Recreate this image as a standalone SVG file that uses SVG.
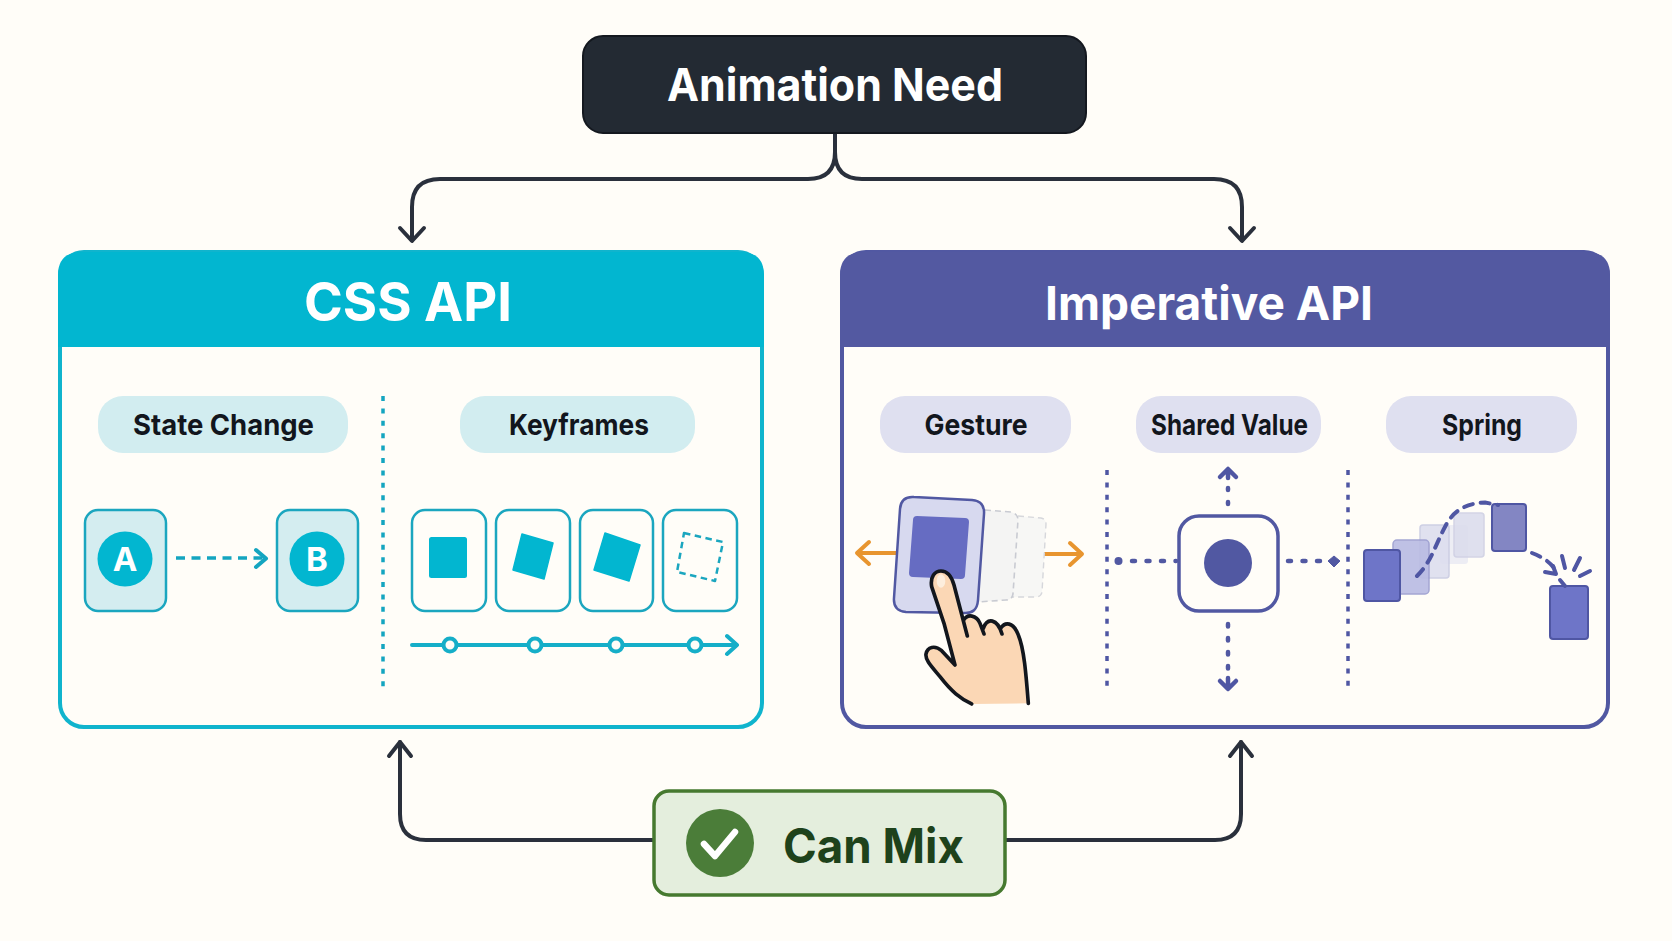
<svg xmlns="http://www.w3.org/2000/svg" width="1672" height="941" viewBox="0 0 1672 941">
  <defs>
    <style>
      text { font-family: Inter, "Noto Sans", "Liberation Sans", sans-serif; text-anchor: middle; font-weight: 700; }
      .pill-label { font-size: 29px; fill: #12161d; font-weight: 650; }
      .head { fill: #ffffff; }
      .link { fill: none; stroke: #2a303c; stroke-width: 4; stroke-linecap: round; stroke-linejoin: round; }
      .teal-fill { fill: #02b6d0; }
      .frame { fill: #fffdf8; stroke: #1ba6bf; stroke-width: 2.5; }
      .state { fill: #d4edf0; stroke: #1ba6bf; stroke-width: 2.5; }
      .pill-t { fill: #d2edf0; }
      .pill-p { fill: #dfe0f0; }
      .dots-t { fill: none; stroke: #14a5c0; stroke-width: 3.5; stroke-dasharray: 5 7.4; }
      .dots-p { fill: none; stroke: #4f56a3; stroke-width: 3.5; stroke-dasharray: 5 7.4; }
      .flow-p { fill: none; stroke: #4f56a3; stroke-width: 4.5; stroke-linecap: round; stroke-linejoin: round; }
      .spring-trail { fill: none; stroke: #4f56a3; stroke-width: 4; stroke-linecap: round; stroke-linejoin: round; }
      .orange { fill: none; stroke: #e8952f; stroke-width: 4; stroke-linecap: round; stroke-linejoin: round; }
      .ghost-a { fill: #f4f4f3; stroke: #c9cbd2; stroke-width: 1.6; stroke-dasharray: 6 4; }
      .ghost-b { fill: #f7f7f5; stroke: #d6d7db; stroke-width: 1.4; stroke-dasharray: 6 4; }
      .block { fill: #6e75c8; stroke: #4f56a3; stroke-width: 2; }
    </style>
  </defs>
  <rect width="1672" height="941" fill="#fffdf8"/>

  <g id="connectors">
    <path class="link" d="M835 134V152Q835 179 808 179H440Q412 179 412 207V240"/>
    <path class="link" d="M835 134V152Q835 179 862 179H1214Q1242 179 1242 207V240"/>
    <path class="link" d="M400 228L412 241L424 228"/>
    <path class="link" d="M1230 228L1242 241L1254 228"/>
    <path class="link" d="M653 840H426Q400 840 400 814V742"/>
    <path class="link" d="M1006 840H1215Q1241 840 1241 814V742"/>
    <path class="link" d="M389 756L400 742L411 756"/>
    <path class="link" d="M1230 756L1241 742L1252 756"/>
  </g>

  <g id="animation-need">
    <rect x="583" y="36" width="503" height="97" rx="20" fill="#232a33" stroke="#14181f" stroke-width="2"/>
    <text class="head" x="835" y="101" font-size="45" textLength="336" lengthAdjust="spacingAndGlyphs">Animation Need</text>
  </g>

  <g id="css-api">
    <rect x="60" y="252" width="702" height="475" rx="24" fill="#fffdf8" stroke="#10b4cd" stroke-width="4"/>
    <path class="teal-fill" d="M58 347V275Q58 252 82 252H740Q764 252 764 275V347Z"/>
    <text class="head" x="408" y="321" font-size="54" textLength="208" lengthAdjust="spacingAndGlyphs">CSS API</text>
    <path class="dots-t" d="M383 396V688"/>
  </g>

  <g id="state-change">
    <rect class="pill-t" x="98" y="396" width="250" height="57" rx="25"/>
    <text class="pill-label" x="223.500" y="435" textLength="181" lengthAdjust="spacingAndGlyphs">State Change</text>
    <rect class="state" x="85" y="510" width="81" height="101" rx="13"/>
    <circle class="teal-fill" cx="125" cy="559" r="27.500"/>
    <text x="125" y="571" font-size="33" style="fill:#fff">A</text>
    <rect class="state" x="277" y="510" width="81" height="101" rx="13"/>
    <circle class="teal-fill" cx="317" cy="559" r="27.500"/>
    <text x="317" y="571" font-size="33" style="fill:#fff">B</text>
    <path d="M176 558H263" fill="none" stroke="#14a5c0" stroke-width="3.500" stroke-dasharray="9 6.500"/>
    <path d="M256 550L266 558.500L256 567" fill="none" stroke="#14a5c0" stroke-width="4" stroke-linecap="round" stroke-linejoin="round"/>
  </g>

  <g id="keyframes">
    <rect class="pill-t" x="460" y="396" width="235" height="57" rx="25"/>
    <text class="pill-label" x="579" y="435" textLength="140" lengthAdjust="spacingAndGlyphs">Keyframes</text>
    <rect class="frame" x="412" y="510" width="74" height="101" rx="13"/>
    <rect class="frame" x="496" y="510" width="74" height="101" rx="13"/>
    <rect class="frame" x="580" y="510" width="73" height="101" rx="13"/>
    <rect class="frame" x="663" y="510" width="74" height="101" rx="13"/>
    <rect class="teal-fill" x="429" y="537" width="38" height="41" rx="2.500"/>
    <path class="teal-fill" d="M522 534L553 543L544 579L513 570Z" stroke="#02b6d0" stroke-width="1.500" stroke-linejoin="round"/>
    <path class="teal-fill" d="M605 533L640 545L629 581L594 570Z" stroke="#02b6d0" stroke-width="1.500" stroke-linejoin="round"/>
    <path d="M684 533L723 542L715 581L677 572Z" fill="none" stroke="#1ba6bf" stroke-width="2.500" stroke-dasharray="6.500 4.500" stroke-linejoin="round"/>
    <path d="M412 645H736M727 636L737 645L727 654" fill="none" stroke="#15aec8" stroke-width="4" stroke-linecap="round" stroke-linejoin="round"/>
    <circle cx="450" cy="645" r="6.500" fill="#fffdf8" stroke="#15aec8" stroke-width="4"/>
    <circle cx="535" cy="645" r="6.500" fill="#fffdf8" stroke="#15aec8" stroke-width="4"/>
    <circle cx="616" cy="645" r="6.500" fill="#fffdf8" stroke="#15aec8" stroke-width="4"/>
    <circle cx="695" cy="645" r="6.500" fill="#fffdf8" stroke="#15aec8" stroke-width="4"/>
  </g>

  <g id="imperative-api">
    <rect x="842" y="252" width="766" height="475" rx="24" fill="#fffdf8" stroke="#5158a2" stroke-width="4"/>
    <path d="M840 347V275Q840 252 864 252H1586Q1610 252 1610 275V347Z" fill="#5359a1"/>
    <text class="head" x="1209" y="320" font-size="47" textLength="328" lengthAdjust="spacingAndGlyphs">Imperative API</text>
    <path class="dots-p" d="M1107 470V688"/>
    <path class="dots-p" d="M1348 470V688"/>
  </g>

  <g id="gesture">
    <rect class="pill-p" x="880" y="396" width="191" height="57" rx="25"/>
    <text class="pill-label" x="976" y="435" textLength="103" lengthAdjust="spacingAndGlyphs">Gesture</text>
    <path class="orange" d="M896 553H858M869 542L857 553L869 564"/>
    <path class="orange" d="M1043 554H1081M1070 543L1082 554L1070 565"/>
    <path class="ghost-b" d="M1018 516L1041 518Q1046 519 1046 524L1042 592Q1041 597 1036 597L1010 597"/>
    <path class="ghost-a" d="M985 510L1011 512Q1018 514 1018 520L1013 594Q1012 600 1006 600L978 602"/>
    <path d="M914 497L972 500Q985 501 984 514L978 600Q977 614 964 613L906 612Q893 611 894 598L900 509Q901 496 914 497Z" fill="#d7d9ef" stroke="#5158a2" stroke-width="2.500"/>
    <path d="M917 516L965 518Q969 518 969 522L965 575Q965 579 961 579L913 577Q909 577 909 573L913 520Q913 516 917 516Z" fill="#666cc2"/>
    <g transform="translate(840 380) scale(.3333)">
      <!-- hand: peach fill first, then the outline left open along the bottom -->
      <path d="M395 972C360 955 335 935 300 890C275 860 255 840 258 822C262 800 285 795 305 812L345 855L312 730L275 620C270 590 285 573 303 573C322 573 335 590 342 615L370 722C382 700 410 705 420 730L430 755C440 712 472 715 485 752C492 728 520 725 535 765C552 805 558 880 565 970Z" fill="#fbd7b5"/>
      <path d="M395 972C360 955 335 935 300 890C275 860 255 840 258 822C262 800 285 795 305 812L345 855L312 730L275 620C270 590 285 573 303 573C322 573 335 590 342 615L382 768M370 722C382 700 410 705 420 730L432 762M430 745C442 712 472 715 486 762M482 745C495 725 520 725 535 765C552 805 558 880 565 970" fill="none" stroke="#12161d" stroke-width="11" stroke-linecap="round" stroke-linejoin="round"/>
      <ellipse cx="303" cy="603" rx="13" ry="20" fill="#fdeedd"/>
    </g>
  </g>

  <g id="shared-value">
    <rect class="pill-p" x="1136" y="396" width="185" height="57" rx="25"/>
    <text class="pill-label" x="1229.500" y="435" textLength="157" lengthAdjust="spacingAndGlyphs">Shared Value</text>
    <rect x="1179" y="516" width="99" height="95" rx="20" fill="#fffdf8" stroke="#5158a2" stroke-width="3.500"/>
    <circle cx="1228" cy="563" r="24" fill="#5158a2"/>
    <circle cx="1118.500" cy="561" r="4" fill="#5158a2"/>
    <path d="M1132 561H1176" fill="none" stroke="#5158a2" stroke-width="4.500" stroke-linecap="round" stroke-dasharray="3 11.500"/>
    <path d="M1288 561H1322" fill="none" stroke="#5158a2" stroke-width="4.500" stroke-linecap="round" stroke-dasharray="3 11.500"/>
    <path d="M1334 556L1340 561L1334 567L1328 561Z" fill="#5158a2" stroke="#5158a2" stroke-width="1" stroke-linejoin="round"/>
    <path d="M1228 488V513" fill="none" stroke="#5158a2" stroke-width="4.500" stroke-linecap="round" stroke-dasharray="2 12"/>
    <path d="M1228 624V672" fill="none" stroke="#5158a2" stroke-width="4.500" stroke-linecap="round" stroke-dasharray="2.500 11.500"/>
    <path class="flow-p" d="M1220 477L1228 469L1236 477M1228 470V478"/>
    <path class="flow-p" d="M1220 681L1228 689L1236 681M1228 688V678"/>
  </g>

  <g id="spring">
    <rect class="pill-p" x="1386" y="396" width="191" height="57" rx="25"/>
    <text class="pill-label" x="1482" y="435" textLength="80" lengthAdjust="spacingAndGlyphs">Spring</text>
    <rect x="1440" y="525" width="28" height="39" rx="3" fill="#e8e8f2" opacity=".8"/>
    <rect x="1420" y="525" width="29" height="53" rx="3" fill="#dddeef" stroke="#c9cbe2" stroke-width="1.500" opacity=".9"/>
    <rect x="1454" y="513" width="30" height="44" rx="3" fill="#dcdded" stroke="#cfd0e4" stroke-width="1.500" opacity=".9"/>
    <rect x="1393" y="540" width="36" height="54" rx="4" fill="#b9bbe3" stroke="#9a9dd0" stroke-width="1.500" opacity=".9"/>
    <rect class="block" x="1364" y="550" width="36" height="51" rx="3"/>
    <rect x="1492" y="504" width="34" height="47" rx="3" fill="#8386c3" stroke="#4f56a3" stroke-width="2"/>
    <rect class="block" x="1550" y="586" width="38" height="53" rx="3"/>
    <path class="spring-trail" d="M1417 576C1432 561 1435 545 1446 525C1455 508 1470 503 1485 502.500L1498 505" stroke-dasharray="9 8"/>
    <path class="spring-trail" d="M1532 553C1545 558 1552 564 1556 571" stroke-dasharray="9 8"/>
    <path class="spring-trail" d="M1545 572L1556 574L1553 566"/>
    <path class="spring-trail" d="M1562 556L1565 568M1580 558L1574 570M1590 571L1580 576M1560 580L1565 586"/>
  </g>

  <g id="can-mix">
    <rect x="654" y="791" width="351" height="104" rx="15" fill="#e4eedd" stroke="#46792f" stroke-width="3.500"/>
    <circle cx="720" cy="843" r="34" fill="#4b7d39"/>
    <path d="M704 844L715 856L735 832" fill="none" stroke="#fff" stroke-width="6.500" stroke-linecap="round" stroke-linejoin="round"/>
    <text x="873.500" y="863" font-size="48" textLength="181" lengthAdjust="spacingAndGlyphs" style="fill:#1e421b">Can Mix</text>
  </g>
</svg>
